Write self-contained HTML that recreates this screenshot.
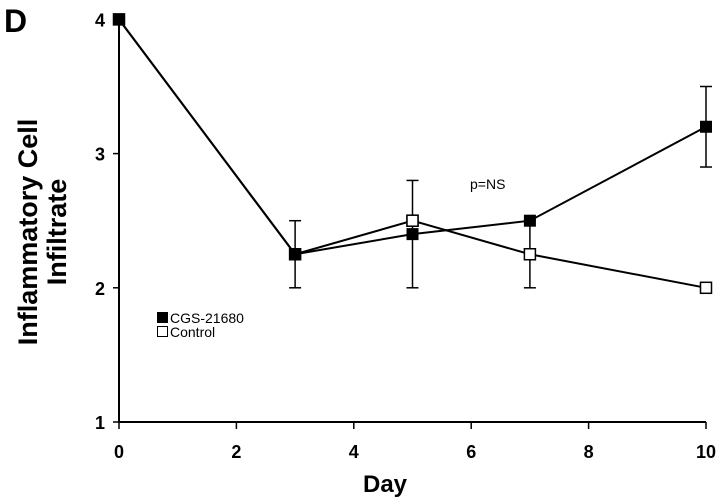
<!DOCTYPE html>
<html><head><meta charset="utf-8"><style>
html,body{margin:0;padding:0;background:#fff;}
svg{display:block;font-family:"Liberation Sans",Arial,sans-serif;}
</style></head><body>
<svg id="chart" width="720" height="499">
<text x="4" y="32" font-size="32" font-weight="bold">D</text>
<g id="axes"></g>
<g id="series"></g>
<text x="385" y="492" font-size="24" font-weight="bold" text-anchor="middle">Day</text>
<text transform="translate(37,232) rotate(-90)" font-size="27" font-weight="bold" text-anchor="middle"><tspan x="0" dy="0">Inflammatory Cell</tspan><tspan x="0" dy="29">Infiltrate</tspan></text>
<text x="470" y="189" font-size="14">p=NS</text>
<g>
<rect x="157" y="312" width="11" height="11" fill="#000"/>
<text x="170" y="323" font-size="14">CGS-21680</text>
<rect x="157.5" y="326.5" width="10" height="10" fill="#fff" stroke="#000"/>
<text x="170" y="337" font-size="14">Control</text>
</g>
</svg>
<script>
const days = [0, 3, 5, 7, 10];
const cgsValues = [4, 2.25, 2.4, 2.5, 3.2];
const controlValues = [4, 2.25, 2.5, 2.25, 2.0];
const errLow = [null, 2.0, 2.0, 2.0, 2.9];
const errHigh = [null, 2.5, 2.8, 2.5, 3.5];
const xTicks = [0, 2, 4, 6, 8, 10];
const yTicks = [1, 2, 3, 4];

const NS = "http://www.w3.org/2000/svg";
const xS = d => 119 + d * 58.7;
const yS = v => 422 - (v - 1) * 134.2;
function mk(tag, attrs, parent) {
  const e = document.createElementNS(NS, tag);
  for (const k in attrs) e.setAttribute(k, attrs[k]);
  parent.appendChild(e);
  return e;
}
const axes = document.getElementById('axes');
const series = document.getElementById('series');
let l = mk('line', {x1: 119, y1: yS(4), x2: 119, y2: 423, stroke: '#000', 'stroke-width': 2}, axes);


l = mk('line', {x1: 118, y1: 422, x2: xS(10), y2: 422, stroke: '#000', 'stroke-width': 2}, axes);


xTicks.forEach(t => {
  const tk = mk('line', {x1: xS(t), y1: 422, x2: xS(t), y2: 429, stroke: '#000', 'stroke-width': 1.5}, axes);
  
  
  const tx = mk('text', {x: xS(t), y: 458, 'font-size': 18, 'font-weight': 'bold', 'text-anchor': 'middle'}, axes);
  tx.textContent = t;
  
  
});
yTicks.forEach(t => {
  const tk = mk('line', {x1: 113, y1: yS(t), x2: 119, y2: yS(t), stroke: '#000', 'stroke-width': 1.5}, axes);
  
  
  const tx = mk('text', {x: 105, y: yS(t) + 7, 'font-size': 18, 'font-weight': 'bold', 'text-anchor': 'end'}, axes);
  tx.textContent = t;
  
  
});
days.forEach((d, i) => {
  if (errLow[i] == null) return;
  const x = xS(d);
  const g = mk('g', {stroke: '#000', 'stroke-width': 1.5}, series);
  
  
  mk('line', {x1: x, y1: yS(errLow[i]), x2: x, y2: yS(errHigh[i])}, g);
  mk('line', {x1: x - 6, y1: yS(errLow[i]), x2: x + 6, y2: yS(errLow[i])}, g);
  mk('line', {x1: x - 6, y1: yS(errHigh[i]), x2: x + 6, y2: yS(errHigh[i])}, g);
});
function line(vals, name) {
  const p = mk('polyline', {points: days.map((d, i) => xS(d) + ',' + yS(vals[i])).join(' '), fill: 'none', stroke: '#000', 'stroke-width': 2}, series);
  
  
}
line(controlValues, 'control-line');
line(cgsValues, 'cgs-line');
days.forEach((d, i) => {
  const r = mk('rect', {x: xS(d) - 5.5, y: yS(controlValues[i]) - 5.5, width: 11, height: 11, fill: '#fff', stroke: '#000', 'stroke-width': 1.5}, series);
  
  
});
days.forEach((d, i) => {
  if (d === 5) return;
  const r = mk('rect', {x: xS(d) - 6, y: yS(cgsValues[i]) - 6, width: 12, height: 12, fill: '#000'}, series);
  
  
});
(function(){
  const i = days.indexOf(5);
  const r = mk('rect', {x: xS(5) - 6, y: yS(cgsValues[i]) - 6, width: 12, height: 12, fill: '#000'}, series);
  
  
  const c = mk('rect', {x: xS(5) - 5.5, y: yS(controlValues[i]) - 5.5, width: 11, height: 11, fill: '#fff', stroke: '#000', 'stroke-width': 1.5}, series);
  
  
})();
</script>
</body></html>
